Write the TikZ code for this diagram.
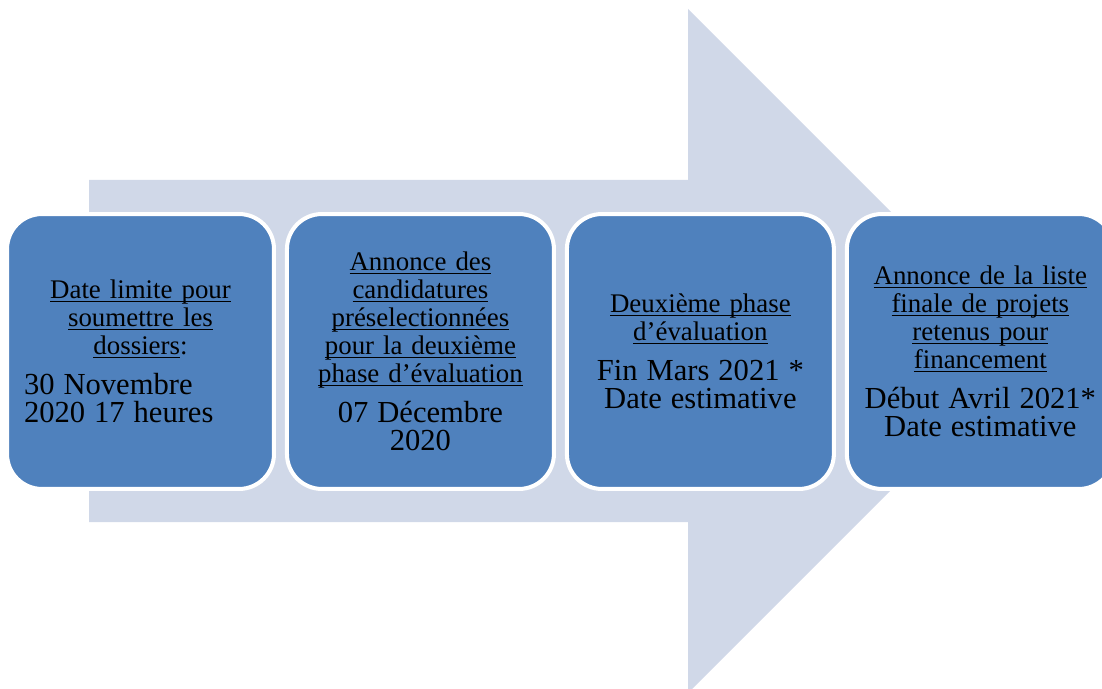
\documentclass[tikz,border=0pt]{standalone}
\usepackage{fontspec}
\setmainfont{Liberation Serif}
\usepackage{xcolor}
\definecolor{arrowblue}{RGB}{208,216,232}
\definecolor{boxblue}{RGB}{79,129,189}
\newcommand{\undl}[1]{\leavevmode\setbox0\hbox{#1}\rlap{\rule[-2pt]{\wd0}{0.8pt}}\box0}
\newcommand{\headsize}{\fontsize{15.3pt}{15.9pt}\selectfont}
\newcommand{\datesize}{\fontsize{17.4pt}{17.1pt}\selectfont}

\begin{document}
\begin{tikzpicture}[x=0.02cm, y=-0.02cm, node distance=5.6cm,
		stage/.style={draw=white, line width=2.3pt, fill=boxblue, rounded corners=0.7cm, minimum width=5.34cm, minimum height=5.5cm, text width=4.66cm, align=center, inner sep=0pt, font=\headsize}]
		\useasboundingbox (0,0) rectangle (1102,689);
		\fill[arrowblue] (89,180) -- (688,180) -- (688,9) -- (1030,351) -- (688,693) -- (688,522) -- (89,522) -- cycle;
		
		\node[stage] (deadline) at (140.5,351.5) {\undl{Date limite pour}\\ \undl{soumettre les}\\ \undl{dossiers}:\\[5.7pt] \datesize\makebox[\linewidth][l]{30 Novembre}\\ \makebox[\linewidth][l]{2020 17 heures}};
		\node[stage, right of=deadline] (shortlist) {\undl{Annonce des}\\ \undl{candidatures}\\ \undl{préselectionnées}\\ \undl{pour la deuxième}\\ \undl{phase d’évaluation}\\[5.7pt] \datesize 07 Décembre\\ 2020};
		\node[stage, right of=shortlist] (phase) {\undl{Deuxième phase}\\ \undl{d’évaluation}\\[5.7pt] \datesize Fin Mars 2021 *\\ Date estimative};
		\node[stage, right of=phase] (final) {\undl{Annonce de la liste}\\ \undl{finale de projets}\\ \undl{retenus pour}\\ \undl{financement}\\[5.7pt] \datesize Début Avril 2021*\\ Date estimative};
\end{tikzpicture}
\end{document}
